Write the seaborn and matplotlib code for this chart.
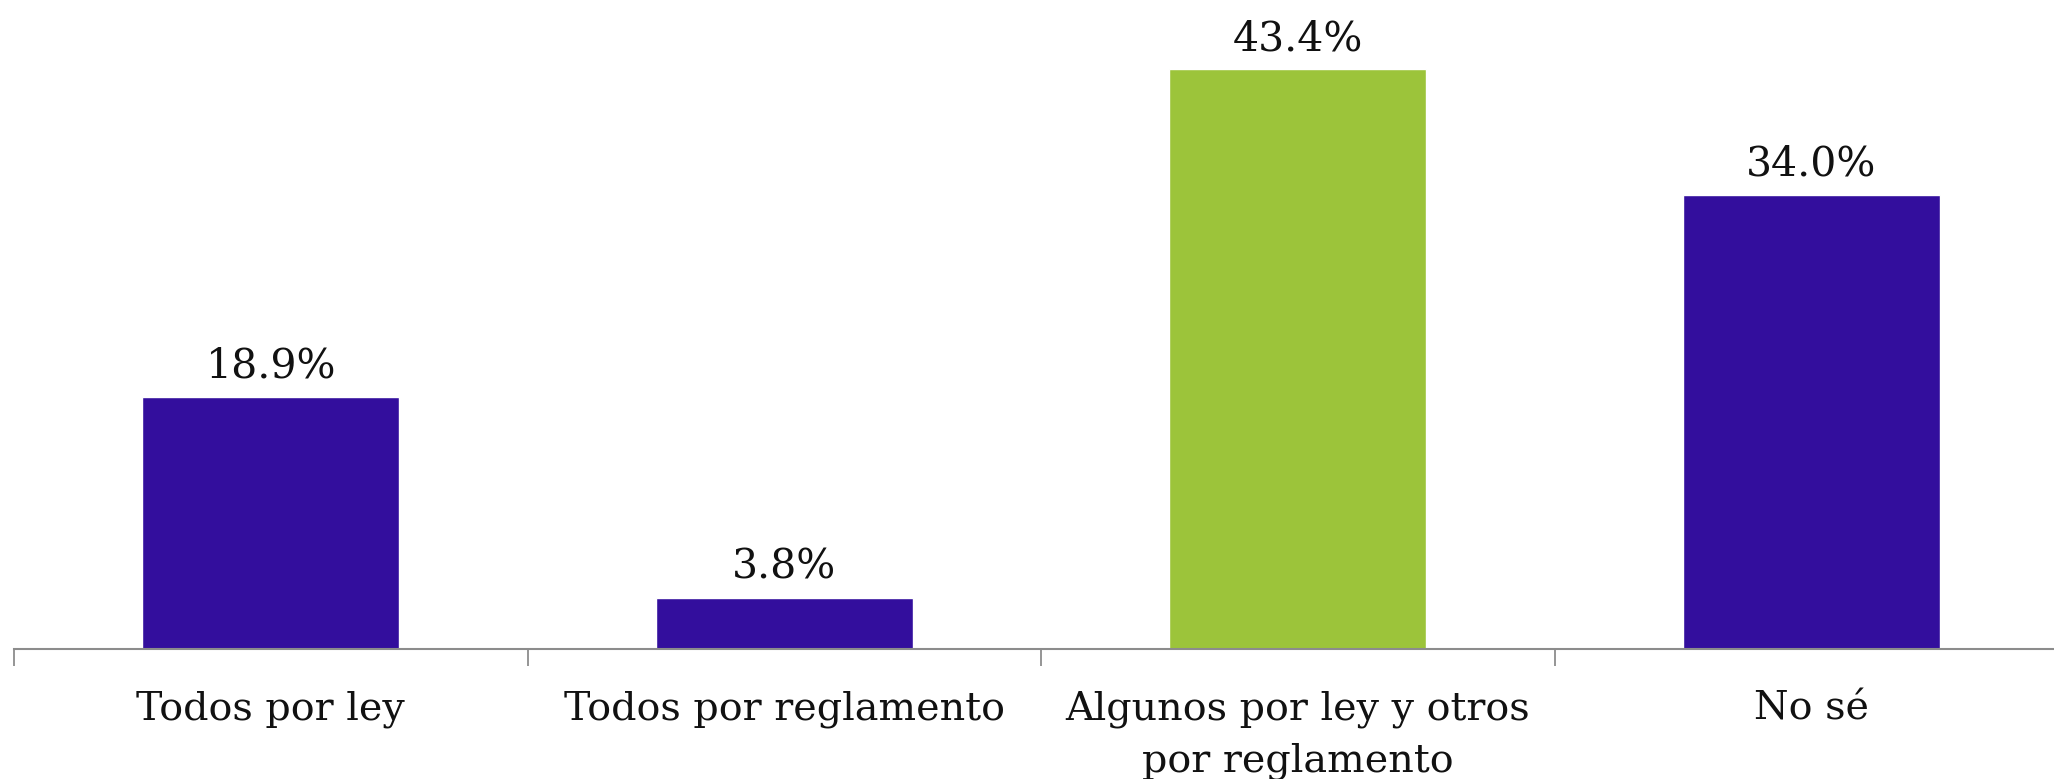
import seaborn as sns
import matplotlib.pyplot as plt
import pandas as pd

categorias = ["Todos por ley", "Todos por reglamento",
              "Algunos por ley y otros\npor reglamento", "No sé"]
valores = [18.9, 3.8, 43.4, 34.0]
etiquetas = ["18.9%", "3.8%", "43.4%", "34.0%"]
colores = ["#330E9D", "#330E9D", "#9CC43A", "#330E9D"]

df = pd.DataFrame({"categoria": categorias, "valor": valores})

sns.set_style("white")
plt.rcParams['font.family'] = ['DejaVu Serif']

fig = plt.figure(figsize=(20.54, 7.79), dpi=100)
# el eje se sale un poco por la derecha, como en el original
ax = fig.add_axes([14 / 2054, 130 / 779, 2054 / 2054, 649 / 779])

sns.barplot(data=df, x="categoria", y="valor", hue="categoria",
            palette=colores, width=0.5, legend=False, ax=ax, saturation=1)

for i, (v, t) in enumerate(zip(valores, etiquetas)):
    ax.text(i, v + 1.45, t, ha="center", va="baseline", fontsize=29.5, color="#111111")

ax.set_ylim(0, 48.6)
ax.set_xlim(-0.5, 3.5)
ax.set_xlabel("")
ax.set_ylabel("")
ax.set_yticks([])
ax.set_xticks([-0.5, 0.5, 1.5, 2.5], labels=[""] * 4, minor=False)
ax.set_xticks(range(4), labels=categorias, minor=True)
for lbl in ax.get_xticklabels(minor=True):
    lbl.set_linespacing(1.5)
ax.tick_params(axis="x", which="major", length=12, width=1.3, color="#8C8C8C", direction="out", bottom=True)
ax.tick_params(axis="x", which="minor", length=0, pad=30, labelsize=28.5, labelcolor="#111111")

for s in ["top", "right", "left"]:
    ax.spines[s].set_visible(False)
ax.spines["bottom"].set_color("#8C8C8C")
ax.spines["bottom"].set_linewidth(1.5)

fig.savefig("out.png", dpi=100)
